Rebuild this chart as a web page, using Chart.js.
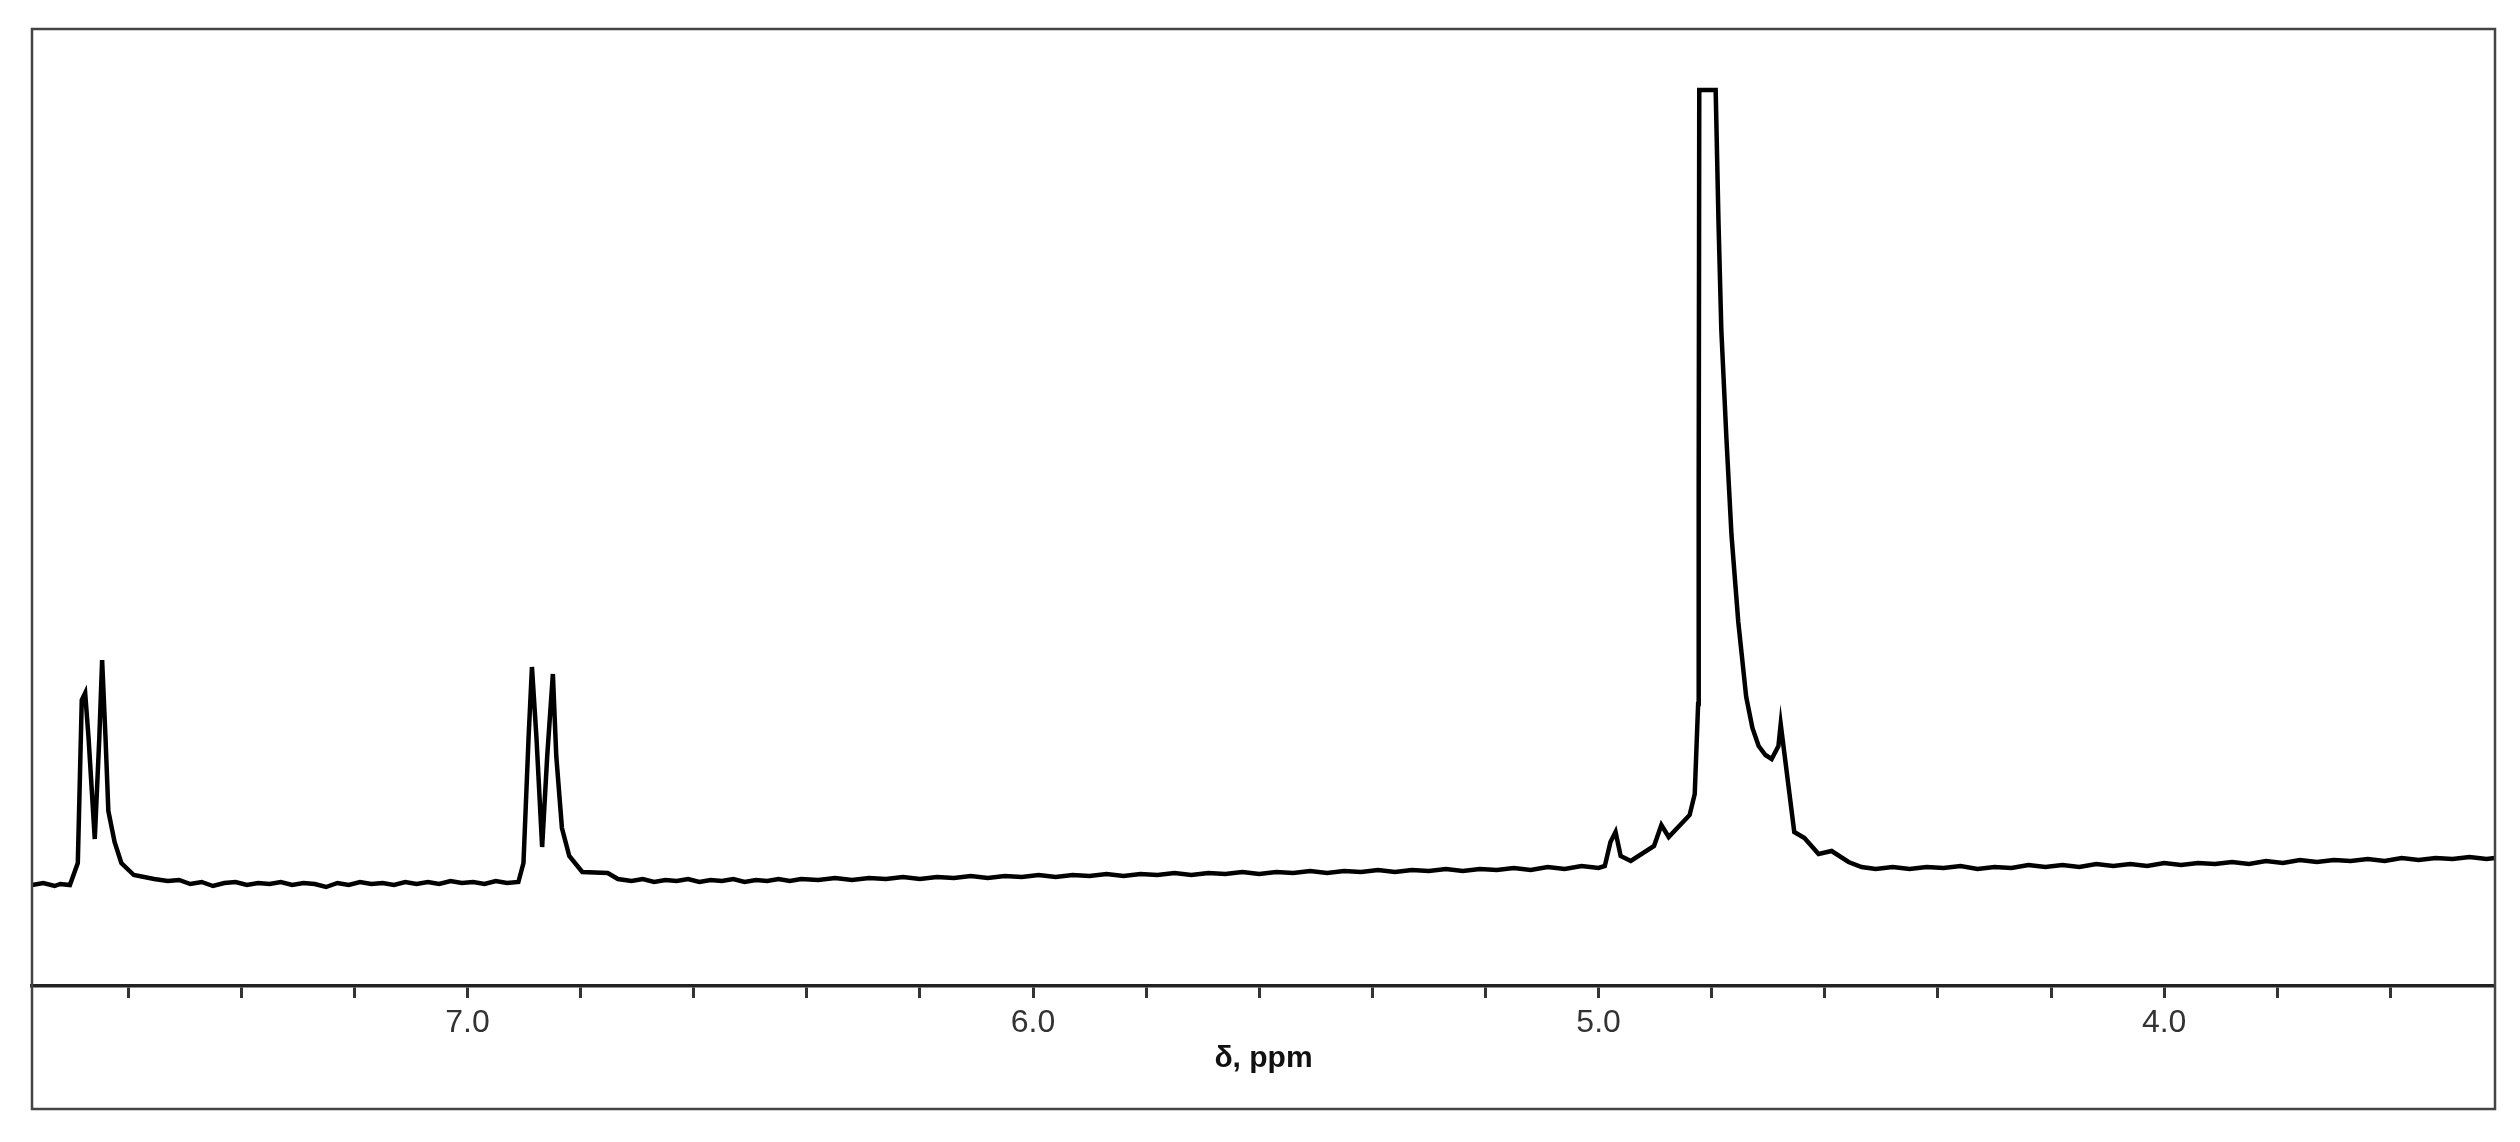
<!DOCTYPE html>
<html>
<head>
<meta charset="utf-8">
<script src="https://cdn.jsdelivr.net/npm/chart.js@4.4.0/dist/chart.umd.min.js"></script>
<style>
  html, body { margin: 0; padding: 0; background: #fff; }
  #wrap { width: 2520px; height: 1142px; }
</style>
</head>
<body>
<div id="wrap"><canvas id="nmr"></canvas></div>
<script>
// chemical shift (ppm) and signal
var shift = [
  7.77, 7.75, 7.73, 7.72, 7.703, 7.689, 7.682, 7.676, 7.670, 7.659, 7.651, 7.646, 7.640, 7.635, 7.624, 7.612, 7.590, 7.554,
  7.53, 7.51, 7.49, 7.47, 7.45, 7.43, 7.41, 7.39, 7.37, 7.35, 7.33, 7.31, 7.29, 7.27, 7.25, 7.23, 7.21, 7.19, 7.17, 7.15,
  7.13, 7.11, 7.09, 7.07, 7.05, 7.03, 7.01, 6.99, 6.97, 6.95, 6.93, 6.91,
  6.901, 6.892, 6.886, 6.878, 6.868, 6.859, 6.849, 6.843, 6.833, 6.820, 6.797, 6.752, 6.734,
  6.71, 6.69, 6.67, 6.65, 6.63, 6.61, 6.59, 6.57, 6.55, 6.53, 6.51, 6.49, 6.47, 6.45, 6.43, 6.41,
  6.38, 6.35, 6.32, 6.29, 6.26, 6.23, 6.20, 6.17, 6.14, 6.11, 6.08, 6.05, 6.02, 5.99, 5.96, 5.93, 5.90, 5.87,
  5.84, 5.81, 5.78, 5.75, 5.72, 5.69, 5.66, 5.63, 5.60, 5.57, 5.54, 5.51, 5.48, 5.45, 5.42, 5.39, 5.36, 5.33,
  5.30, 5.27, 5.24, 5.21, 5.18, 5.15, 5.12, 5.09, 5.06, 5.03, 5.00, 4.989,
  4.979, 4.970, 4.961, 4.943, 4.902, 4.889, 4.876, 4.839, 4.830, 4.824, 4.823, 4.822, 4.821,
  4.793, 4.788, 4.783, 4.774, 4.765, 4.753, 4.739, 4.728, 4.717, 4.705, 4.694, 4.682, 4.678, 4.672, 4.654, 4.636, 4.611,
  4.588, 4.558, 4.535,
  4.51, 4.48, 4.45, 4.42, 4.39, 4.36, 4.33, 4.30, 4.27, 4.24, 4.21, 4.18, 4.15, 4.12, 4.09, 4.06, 4.03, 4.00,
  3.97, 3.94, 3.91, 3.88, 3.85, 3.82, 3.79, 3.76, 3.73, 3.70, 3.67, 3.64, 3.61, 3.58, 3.55, 3.52, 3.49, 3.46,
  3.43, 3.415
];
var signal = [
  101, 103, 100, 102, 101, 123, 286, 293, 248, 147, 248, 326, 248, 175, 144, 123, 111, 107,
  105, 106, 102, 104, 100, 103, 104, 101, 103, 102, 104, 101, 103, 102, 99, 103, 101, 104, 102, 103,
  101, 104, 102, 104, 102, 105, 103, 104, 102, 105, 103, 104,
  123, 248, 319, 248, 139, 230, 312, 230, 158, 130, 114, 113, 107,
  105, 107, 104, 106, 105, 107, 104, 106, 105, 107, 104, 106, 105, 107, 105, 107,
  106, 108, 106, 108, 107, 109, 107, 109, 108, 110, 108, 110, 109, 111, 109, 111, 110, 112,
  110, 112, 111, 113, 111, 113, 112, 114, 112, 114, 113, 115, 113, 115, 114, 116, 114, 116,
  115, 117, 115, 117, 116, 118, 116, 119, 117, 120, 118, 120,
  144, 154, 130, 125, 140, 161, 149, 171, 192, 282, 494, 896, 896,
  896, 764, 656, 548, 451, 364, 289, 258, 240, 231, 227, 240, 262, 235, 154, 148, 132,
  135, 124, 119,
  117, 119, 117, 119, 118, 120, 117, 119, 118, 121, 119, 121, 119, 122, 120, 122, 120, 123,
  121, 123, 122, 124, 122, 125, 123, 126, 124, 126, 125, 127, 125, 128, 126, 128, 127, 129,
  127, 128
];
var majorTicks = [7.0, 6.0, 5.0, 4.0];
var minorTicks = [7.6, 7.4, 7.2, 6.8, 6.6, 6.4, 6.2, 5.8, 5.6, 5.4, 5.2, 4.8, 4.6, 4.4, 4.2, 3.8, 3.6];
var axisTitle = 'δ, ppm';

var points = shift.map(function (x, i) { return { x: x, y: signal[i] }; });
var allTicks = majorTicks.concat(minorTicks).sort(function (a, b) { return b - a; });

// outer box around plot and axis labels
var framePlugin = {
  id: 'frame',
  afterDraw: function (chart) {
    var ctx = chart.ctx, a = chart.chartArea;
    ctx.save();
    ctx.strokeStyle = '#444';
    ctx.lineWidth = 2.5;
    ctx.strokeRect(a.left, a.top, a.right - a.left, 1109 - a.top);
    ctx.restore();
  }
};

new Chart(document.getElementById('nmr'), {
  type: 'line',
  data: {
    datasets: [{
      data: points,
      borderColor: '#000',
      borderWidth: 4.5,
      pointRadius: 0,
      tension: 0,
      fill: false
    }]
  },
  options: {
    responsive: true,
    maintainAspectRatio: false,
    animation: false,
    layout: { padding: { left: 32, right: 25, top: 29, bottom: 33 } },
    plugins: { legend: { display: false }, tooltip: { enabled: false } },
    scales: {
      x: {
        type: 'linear',
        reverse: true,
        min: 3.415,
        max: 7.77,
        afterBuildTicks: function (scale) {
          scale.ticks = allTicks.map(function (v) { return { value: v }; });
        },
        afterFit: function (scale) { scale.height = 123; },
        border: { display: true, color: '#222', width: 3.5 },
        grid: { drawOnChartArea: false, tickLength: 12, color: '#333', tickWidth: 3 },
        ticks: {
          autoSkip: false,
          maxRotation: 0,
          padding: 6,
          color: '#333',
          font: { family: 'Liberation Sans', size: 32 },
          callback: function (v) { return majorTicks.indexOf(v) >= 0 ? v.toFixed(1) : ''; }
        },
        title: {
          display: true,
          text: axisTitle,
          color: '#111',
          font: { family: 'Liberation Sans', size: 30, weight: 'bold' },
          padding: { top: 0, bottom: 32 }
        }
      },
      y: {
        display: false,
        min: 0,
        max: 957
      }
    }
  },
  plugins: [framePlugin]
});
</script>
</body>
</html>
